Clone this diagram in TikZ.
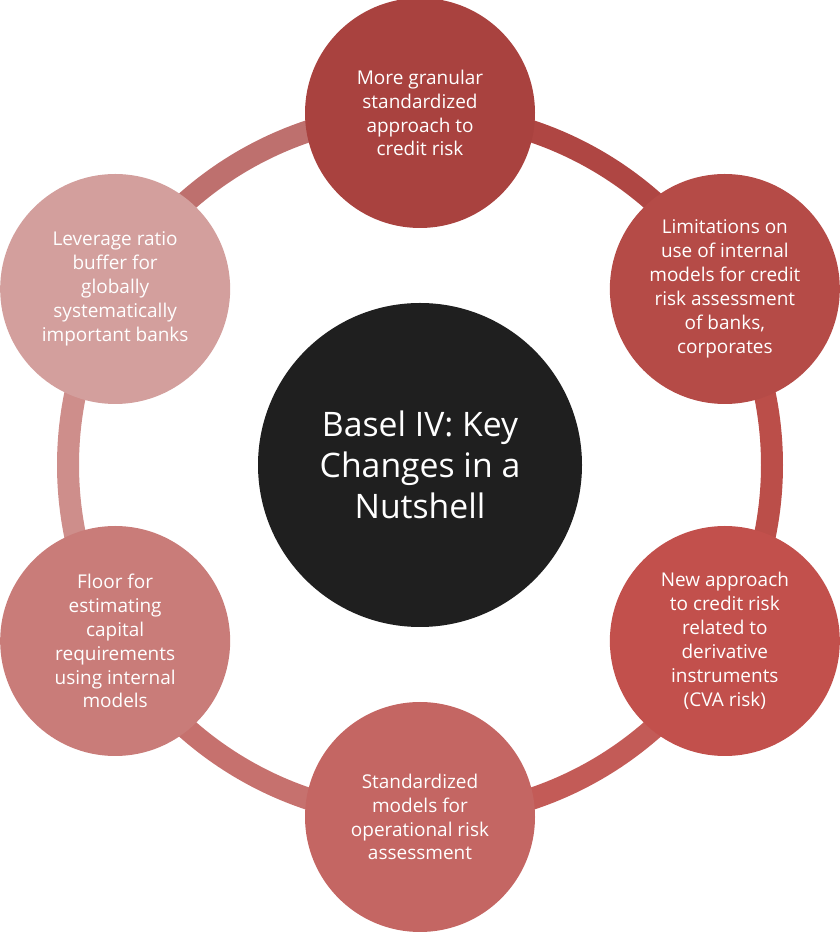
\documentclass[tikz,border=0pt]{standalone}
\usepackage{fontspec}
\setmainfont{Open Sans}
\usetikzlibrary{calc}
\definecolor{cTop}{HTML}{A9423F}
\definecolor{cUR}{HTML}{B54B47}
\definecolor{cLR}{HTML}{C2504C}
\definecolor{cBot}{HTML}{C46663}
\definecolor{cLL}{HTML}{C97C79}
\definecolor{cUL}{HTML}{D39F9D}
\tikzset{
  topic/.style={circle, minimum size=230*0.025cm, inner sep=0pt, align=center,
    text=white, font=\fontsize{13.5}{17}\selectfont},
  hub/.style={circle, fill=black!88, minimum size=324*0.025cm, align=center,
    text=white, font=\fontsize{24}{29}\selectfont}
}
\begin{document}
\begin{tikzpicture}[x=0.025cm, y=0.025cm]
\useasboundingbox (0,0) rectangle (840,934);
\coordinate (c) at (420,469);
% ring
\foreach \a/\b/\col in {90/30/cTop!50!cUR, 30/-30/cUR!50!cLR, -30/-90/cLR!50!cBot,
  -90/-150/cBot!50!cLL, -150/-210/cLL!50!cUL, 150/90/cUL!50!cTop}
  \draw[line width=22*0.025cm, \col] ($(c)+(\a:352)$) arc[start angle=\a, end angle=\b, radius=352];
\node[hub] (core) at (c) {Basel IV: Key\\Changes in a\\Nutshell};
\node[topic, fill=cTop] (granular) at ($(c)+(90:352)$) {More granular\\standardized\\approach to\\credit risk};
\node[topic, fill=cUR] (internal) at ($(c)+(30:352)$) {Limitations on\\use of internal\\models for credit\\risk assessment\\of banks,\\corporates};
\node[topic, fill=cLR] (cva) at ($(c)+(-30:352)$) {New approach\\to credit risk\\related to\\derivative\\instruments\\(CVA risk)};
\node[topic, fill=cBot] (oprisk) at ($(c)+(-90:352)$) {Standardized\\models for\\operational risk\\assessment};
\node[topic, fill=cLL] (floor) at ($(c)+(-150:352)$) {Floor for\\estimating\\capital\\requirements\\using internal\\models};
\node[topic, fill=cUL] (leverage) at ($(c)+(150:352)$) {Leverage ratio\\buffer for\\globally\\systematically\\important banks};
\end{tikzpicture}
\end{document}
